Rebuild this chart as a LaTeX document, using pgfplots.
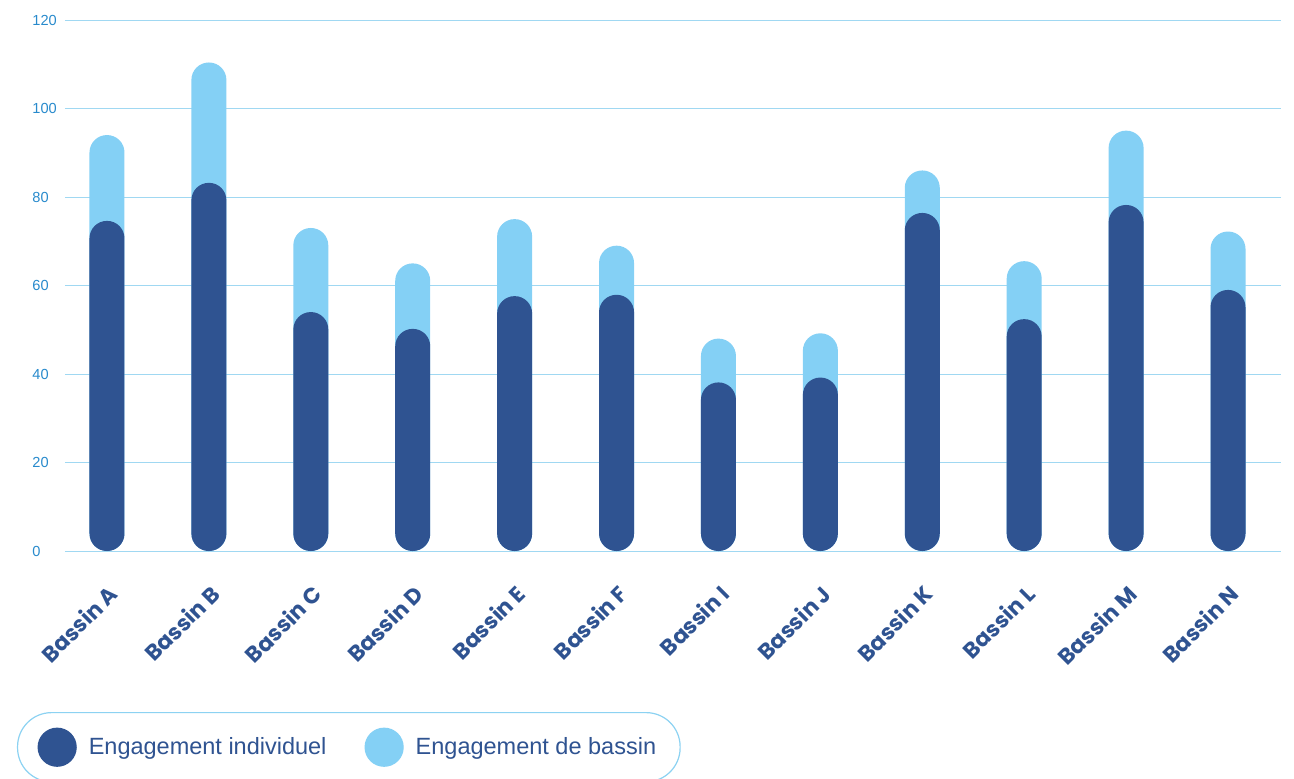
\documentclass[border=0pt]{standalone}
\usepackage{pgfplots}
\pgfplotsset{compat=1.18}
\usepackage{fontspec}
\setmainfont{Liberation Sans}
\newfontfamily\pop{Poppins}
\definecolor{darkblue}{RGB}{47,83,145}
\definecolor{lightblue}{RGB}{132,208,245}
\definecolor{gridblue}{RGB}{160,216,242}
\definecolor{tickblue}{RGB}{40,138,204}
\definecolor{legendblue}{RGB}{140,210,242}

\begin{document}
\begin{tikzpicture}
\begin{axis}[
  scale only axis,
  width=608pt, height=265.5pt,
  xmin=-0.412, xmax=11.52,
  ymin=0, ymax=120,
  ytick={0,20,...,120},
  xtick={0,...,11},
  xticklabels={Bassin A,Bassin B,Bassin C,Bassin D,Bassin E,Bassin F,Bassin I,Bassin J,Bassin K,Bassin L,Bassin M,Bassin N},
  axis line style={draw=none},
  major tick length=0pt,
  ymajorgrids,
  grid style={gridblue, line width=0.5pt},
  /pgf/number format/assume math mode=true,
  yticklabel style={font=\fontsize{7.3}{8}\selectfont, text=tickblue, anchor=west, inner sep=0pt, xshift=-16.5pt},
  xticklabel style={font=\pop\bfseries\fontsize{11}{12}\selectfont, text=darkblue, inner sep=0pt, yshift=-16pt, rotate=45, anchor=north east},
  clip=false,
  legend columns=2,
  legend cell align=left,
  legend style={at={(-0.0395,-0.3032)}, anchor=north west, draw=legendblue, line width=0.6pt,
    rounded corners=17pt, inner xsep=10pt, inner ysep=7.5pt,
    font=\fontsize{11.75}{13}\selectfont, text=darkblue,
    /tikz/every odd column/.append style={column sep=4pt},
    /tikz/every even column/.append style={column sep=17pt}},
]
\addlegendimage{legend image code/.code={\fill[darkblue] (9.5pt,0pt) circle (9.5pt);}}
\addlegendentry{Engagement individuel}
\addlegendimage{legend image code/.code={\fill[lightblue] (9.5pt,0pt) circle (9.5pt);}}
\addlegendentry{Engagement de bassin}

% total (individuel + bassin)
\addplot[ybar, bar width=17.5pt, bar shift=0pt, fill=lightblue, draw=none, rounded corners=8.7pt, forget plot]
coordinates {(0,94) (1,110.4) (2,73) (3,65) (4,75) (5,69) (6,48) (7,49.2) (8,86) (9,65.5) (10,95) (11,72.2)};
% individuel
\addplot[ybar, bar width=17.5pt, bar shift=0pt, fill=darkblue, draw=none, rounded corners=8.7pt, forget plot]
coordinates {(0,74.6) (1,83.2) (2,54) (3,50.2) (4,57.6) (5,57.9) (6,38.1) (7,39.2) (8,76.4) (9,52.4) (10,78.2) (11,59)};
\end{axis}
\pgfresetboundingbox
\useasboundingbox (-32.5pt,-113.5pt) rectangle (614.5pt,275.5pt);
\end{tikzpicture}
\end{document}
